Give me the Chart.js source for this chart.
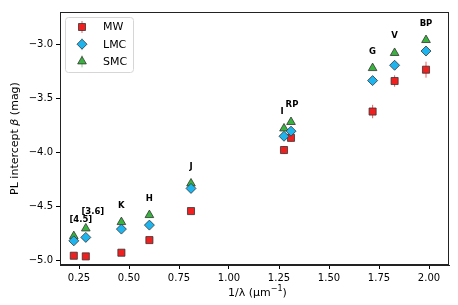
<!DOCTYPE html>
<html>
<head>
<meta charset="utf-8">
<script src="https://cdn.jsdelivr.net/npm/chart.js@4/dist/chart.umd.min.js"></script>
<style>
  html, body { margin: 0; padding: 0; background: #fff; }
  canvas { display: block; }
</style>
</head>
<body>
<canvas id="chart" width="458" height="305"></canvas>
<script>
// bandas fotométricas y su 1/lambda (um^-1)
const bands = ['[4.5]', '[3.6]', 'K', 'H', 'J', 'I', 'RP', 'G', 'V', 'BP'];
const invLambda = [0.224, 0.284, 0.462, 0.602, 0.81, 1.275, 1.31, 1.718, 1.828, 1.985];

// interceptos PL (mag)
const mwBeta  = [-4.96, -4.966, -4.932, -4.815, -4.546, -3.98, -3.867, -3.623, -3.34, -3.235];
const mwErr   = [0.02, 0.02, 0.02, 0.02, 0.02, 0.037, 0.037, 0.062, 0.053, 0.074];
const lmcBeta = [-4.822, -4.79, -4.713, -4.676, -4.336, -3.852, -3.805, -3.336, -3.194, -3.062];
const lmcErr  = [0.01, 0.01, 0.01, 0.01, 0.01, 0.01, 0.01, 0.01, 0.01, 0.01];
const smcBeta = [-4.778, -4.707, -4.648, -4.583, -4.29, -3.78, -3.72, -3.22, -3.08, -2.96];
const smcErr  = [0.012, 0.012, 0.012, 0.012, 0.012, 0.012, 0.012, 0.012, 0.012, 0.012];

const xTicks = [0.25, 0.5, 0.75, 1.0, 1.25, 1.5, 1.75, 2.0];
const yTicks = [-5.0, -4.5, -4.0, -3.5, -3.0];

const FONT = "'DejaVu Sans', sans-serif";
const RED = 'rgb(240,32,32)', BLUE = 'rgb(30,180,238)', GREEN = 'rgb(58,178,64)';

function pts(ys) { return invLambda.map((x, i) => ({ x: x, y: ys[i] })); }

function drawMarker(ctx, style, x, y, fill) {
    ctx.save();
    ctx.fillStyle = fill;
    ctx.strokeStyle = '#333';
    ctx.lineWidth = 0.8;
    ctx.beginPath();
    if (style === 'rect') {
        ctx.rect(x - 3.5, y - 3.5, 7, 7);
    } else if (style === 'rectRot') {
        ctx.moveTo(x, y - 5); ctx.lineTo(x + 5, y); ctx.lineTo(x, y + 5); ctx.lineTo(x - 5, y);
        ctx.closePath();
    } else {
        ctx.moveTo(x, y - 5); ctx.lineTo(x + 4.33, y + 2.5); ctx.lineTo(x - 4.33, y + 2.5);
        ctx.closePath();
    }
    ctx.fill();
    ctx.stroke();
    ctx.restore();
}

// barras de error, marco, etiquetas de banda, títulos y leyenda
const extras = {
    id: 'extras',
    beforeDatasetsDraw(chart) {
        const ctx = chart.ctx, xs = chart.scales.x, ys = chart.scales.y;
        const sets = [[mwBeta, mwErr, 'rgba(240,40,40,0.75)'], [lmcBeta, lmcErr, 'rgba(30,180,238,0.6)'], [smcBeta, smcErr, 'rgba(58,178,64,0.6)']];
        ctx.save();
        ctx.lineWidth = 1;
        sets.forEach(([vals, errs, col]) => {
            ctx.strokeStyle = col;
            invLambda.forEach((x, i) => {
                const px = xs.getPixelForValue(x);
                ctx.beginPath();
                ctx.moveTo(px, ys.getPixelForValue(vals[i] - errs[i]));
                ctx.lineTo(px, ys.getPixelForValue(vals[i] + errs[i]));
                ctx.stroke();
            });
        });
        ctx.restore();
    },
    afterDraw(chart) {
        const ctx = chart.ctx, a = chart.chartArea, xs = chart.scales.x, ys = chart.scales.y;
        ctx.save();
        // marco completo
        ctx.strokeStyle = '#222';
        ctx.lineWidth = 1;
        ctx.strokeRect(a.left + 0.5, a.top + 0.5, a.right - a.left - 1, a.bottom - a.top - 1);

        // etiquetas de banda sobre cada grupo
        ctx.fillStyle = '#000';
        ctx.font = 'bold 8.5px ' + FONT;
        ctx.textAlign = 'center';
        ctx.textBaseline = 'middle';
        const dx = { '[4.5]': 7, '[3.6]': 7, 'I': -2, 'RP': 1 };
        bands.forEach((b, i) => {
            const top = Math.max(mwBeta[i], lmcBeta[i], smcBeta[i]);
            ctx.fillText(b, xs.getPixelForValue(invLambda[i]) + (dx[b] || 0), ys.getPixelForValue(top + 0.155));
        });

        // título eje x: 1/λ (μm⁻¹)
        ctx.textBaseline = 'middle';
        ctx.textAlign = 'left';
        ctx.font = '11px ' + FONT;
        const t1 = '1/λ (μm', t3 = ')';
        ctx.font = '8px ' + FONT;
        const w2 = ctx.measureText('−1').width;
        ctx.font = '11px ' + FONT;
        const w1 = ctx.measureText(t1).width, w3 = ctx.measureText(t3).width;
        let sx = (a.left + a.right) / 2 - (w1 + w2 + w3) / 2 + 3;
        const ty = 293;
        ctx.fillText(t1, sx, ty);
        ctx.font = '8px ' + FONT;
        ctx.fillText('−1', sx + w1, ty - 4);
        ctx.font = '11px ' + FONT;
        ctx.fillText(t3, sx + w1 + w2, ty);

        // título eje y: PL intercept β (mag)
        ctx.save();
        ctx.translate(15, (a.top + a.bottom) / 2);
        ctx.rotate(-Math.PI / 2);
        const p1 = 'PL intercept ', p2 = 'β', p3 = ' (mag)';
        ctx.font = '11px ' + FONT;
        const q1 = ctx.measureText(p1).width, q3 = ctx.measureText(p3).width;
        ctx.font = 'italic 11px ' + FONT;
        const q2 = ctx.measureText(p2).width;
        let ox = -(q1 + q2 + q3) / 2;
        ctx.font = '11px ' + FONT;
        ctx.fillText(p1, ox, 0);
        ctx.font = 'italic 11px ' + FONT;
        ctx.fillText(p2, ox + q1, 0);
        ctx.font = '11px ' + FONT;
        ctx.fillText(p3, ox + q1 + q2, 0);
        ctx.restore();

        // leyenda
        const lx = 65.5, ly = 17.5, lw = 68, lh = 55;
        ctx.beginPath();
        ctx.roundRect(lx, ly, lw, lh, 3);
        ctx.fillStyle = 'rgba(255,255,255,0.85)';
        ctx.fill();
        ctx.strokeStyle = '#d6d6d6';
        ctx.lineWidth = 1;
        ctx.stroke();
        const items = [['MW', 'rect', RED, 'rgba(240,40,40,0.75)'], ['LMC', 'rectRot', BLUE, 'rgba(30,180,238,0.6)'], ['SMC', 'triangle', GREEN, 'rgba(58,178,64,0.6)']];
        items.forEach(([name, st, col, ecol], k) => {
            const my = 27 + k * 17.2;
            ctx.strokeStyle = ecol;
            ctx.beginPath();
            ctx.moveTo(82, my - 6); ctx.lineTo(82, my + 6);
            ctx.stroke();
            drawMarker(ctx, st, 82, my, col);
            ctx.fillStyle = '#000';
            ctx.font = '11px ' + FONT;
            ctx.textAlign = 'left';
            ctx.textBaseline = 'middle';
            ctx.fillText(name, 103, my + 0.5);
        });
        ctx.restore();
    }
};

const fmtMinus = s => s.replace('-', '−');

new Chart(document.getElementById('chart').getContext('2d'), {
    type: 'scatter',
    data: {
        datasets: [
            { label: 'MW', data: pts(mwBeta), order: 2, pointStyle: 'rect', pointRadius: 5, pointHoverRadius: 5,
              backgroundColor: RED, borderColor: '#333', borderWidth: 0.8 },
            { label: 'LMC', data: pts(lmcBeta), order: 0, pointStyle: 'rectRot', pointRadius: 5, pointHoverRadius: 5,
              backgroundColor: BLUE, borderColor: '#333', borderWidth: 0.8 },
            { label: 'SMC', data: pts(smcBeta), order: 1, pointStyle: 'triangle', pointRadius: 5, pointHoverRadius: 5,
              backgroundColor: GREEN, borderColor: '#333', borderWidth: 0.8 }
        ]
    },
    options: {
        responsive: false,
        animation: false,
        devicePixelRatio: 1,
        layout: { padding: { top: 12, right: 9, left: 0, bottom: 0 } },
        plugins: { legend: { display: false }, title: { display: false }, tooltip: { enabled: false } },
        scales: {
            x: {
                type: 'linear', min: 0.155, max: 2.10,
                afterBuildTicks: s => { s.ticks = xTicks.map(v => ({ value: v })); },
                afterFit: s => { s.height = 40; },
                grid: { drawOnChartArea: false, tickLength: 4, color: '#000' },
                border: { display: true, color: '#222' },
                ticks: { color: '#000', padding: 3, maxRotation: 0, autoSkip: false,
                         font: { family: FONT, size: 10 }, callback: v => v.toFixed(2) }
            },
            y: {
                type: 'linear', min: -5.046, max: -2.70,
                afterBuildTicks: s => { s.ticks = yTicks.map(v => ({ value: v })); },
                afterFit: s => { s.width = 60; },
                grid: { drawOnChartArea: false, tickLength: 4, color: '#000' },
                border: { display: true, color: '#222' },
                ticks: { color: '#000', padding: 3, autoSkip: false,
                         font: { family: FONT, size: 10 }, callback: v => fmtMinus(v.toFixed(1)) }
            }
        }
    },
    plugins: [extras]
});
</script>
</body>
</html>
